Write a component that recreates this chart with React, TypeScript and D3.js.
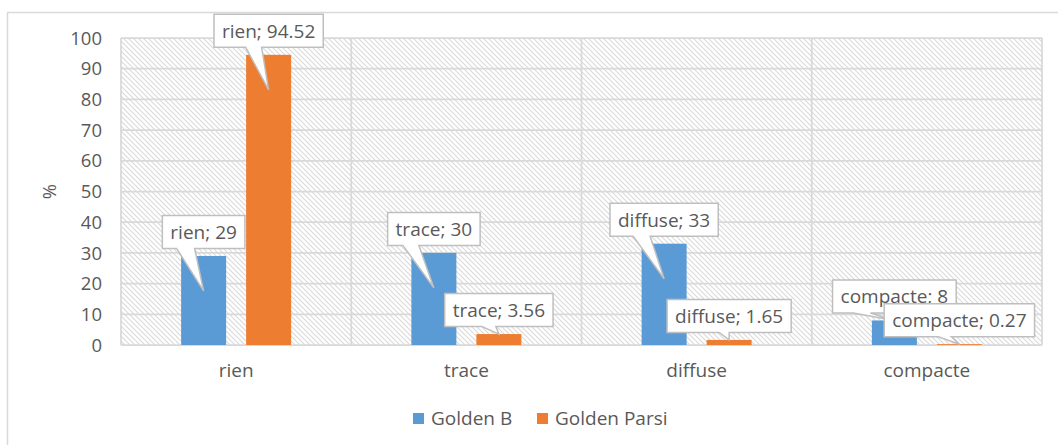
import React, { useEffect, useRef } from "react";
import * as d3 from "d3";

const categories = ["rien", "trace", "diffuse", "compacte"];
const seriesNames = ["Golden B", "Golden Parsi"];
const goldenB = [29, 30, 33, 8];
const goldenParsi = [94.52, 3.56, 1.65, 0.27];
const yTicks = [0, 10, 20, 30, 40, 50, 60, 70, 80, 90, 100];
const seriesColors = ["#5B9BD5", "#ED7D31"];

// Callout pointer geometry: how far below the bar top the tip sits,
// and the wedge base span on the box edge relative to the tip x.
const tipDepthB = [35, 35, 35, 0];
const tipDepthP = [35, 0, 0, 0];
const wedgeBaseB = [[-27, -9], [-31, -15], [-31, -14], [-41, -24]];
const wedgeBaseP = [[-23, -7], [-17, -3], [-10, 0], [-21, -8]];

const W = 1058;
const H = 445;
const plot = { left: 121, right: 1042, top: 38, bottom: 345 };
const textColor = "#595959";
const gridColor = "#d9d9d9";
const font = "'Open Sans', sans-serif";

export default function App() {
  const ref = useRef<SVGSVGElement | null>(null);

  useEffect(() => {
    const svg = d3.select(ref.current);
    svg.selectAll("*").remove();

    const x0 = d3.scaleBand<string>().domain(categories).range([plot.left, plot.right]).paddingInner(0).paddingOuter(0);
    const x1 = d3.scaleBand<string>().domain(seriesNames).range([0, x0.bandwidth()]).paddingInner(0.3077).paddingOuter(0.925);
    const y = d3.scaleLinear().domain([0, 100]).range([plot.bottom, plot.top]);

    const defs = svg.append("defs");
    const pat = defs.append("pattern")
      .attr("id", "hatch")
      .attr("patternUnits", "userSpaceOnUse")
      .attr("width", 5)
      .attr("height", 5);
    pat.append("rect").attr("width", 5).attr("height", 5).attr("fill", "#ffffff");
    pat.append("path")
      .attr("d", "M-1,-1 L6,6 M-1,4 L1,6 M4,-1 L6,1")
      .attr("stroke", "#dadada")
      .attr("stroke-width", 1.1);

    svg.append("rect").attr("x", 0).attr("y", 0).attr("width", W).attr("height", H).attr("fill", "#ffffff");
    svg.append("rect")
      .attr("x", 7.5).attr("y", 12.5).attr("width", W + 20).attr("height", H + 20)
      .attr("fill", "#ffffff").attr("stroke", gridColor).attr("stroke-width", 1.5);

    // plot area with hatched fill
    svg.append("rect")
      .attr("x", plot.left).attr("y", plot.top)
      .attr("width", plot.right - plot.left).attr("height", plot.bottom - plot.top)
      .attr("fill", "url(#hatch)");

    // horizontal gridlines
    svg.append("g").selectAll("line").data(yTicks).join("line")
      .attr("x1", plot.left).attr("x2", plot.right)
      .attr("y1", (d) => y(d)).attr("y2", (d) => y(d))
      .attr("stroke", gridColor).attr("stroke-width", 1.75);

    // vertical gridlines at category boundaries
    const bounds = categories.map((c) => x0(c) as number).concat([plot.right]);
    svg.append("g").selectAll("line").data(bounds).join("line")
      .attr("x1", (d) => d).attr("x2", (d) => d)
      .attr("y1", plot.top).attr("y2", plot.bottom)
      .attr("stroke", gridColor).attr("stroke-width", 1.75);

    const seriesData = [goldenB, goldenParsi];

    // bars
    seriesData.forEach((vals, si) => {
      svg.append("g").selectAll("rect").data(vals).join("rect")
        .attr("x", (_d, i) => (x0(categories[i]) as number) + (x1(seriesNames[si]) as number))
        .attr("y", (d) => y(d))
        .attr("width", x1.bandwidth())
        .attr("height", (d) => y(0) - y(d))
        .attr("fill", seriesColors[si]);
    });

    // y tick labels
    svg.append("g").selectAll("text").data(yTicks).join("text")
      .attr("x", 102).attr("y", (d) => y(d)).attr("dy", "0.36em")
      .attr("text-anchor", "end")
      .attr("font-family", font).attr("font-size", 18.5).attr("fill", textColor)
      .text((d) => String(d));

    // y axis title
    svg.append("text")
      .attr("transform", `translate(56, ${(plot.top + plot.bottom) / 2}) rotate(-90)`)
      .attr("text-anchor", "middle")
      .attr("font-family", font).attr("font-size", 18.5).attr("fill", textColor)
      .text("%");

    // category labels
    svg.append("g").selectAll("text").data(categories).join("text")
      .attr("x", (d) => (x0(d) as number) + x0.bandwidth() / 2)
      .attr("y", 377)
      .attr("text-anchor", "middle")
      .attr("font-family", font).attr("font-size", 19).attr("fill", textColor)
      .text((d) => d);

    // data callouts
    const tipDepths = [tipDepthB, tipDepthP];
    const wedgeBases = [wedgeBaseB, wedgeBaseP];
    const pad = 8;
    const boxH = 33;
    seriesData.forEach((vals, si) => {
      vals.forEach((v, i) => {
        const cx = (x0(categories[i]) as number) + (x1(seriesNames[si]) as number) + x1.bandwidth() / 2;
        const top = y(v);
        const cy = top - 24;
        const g = svg.append("g");
        const path = g.append("path");
        const txt = g.append("text")
          .attr("x", cx).attr("y", cy).attr("dy", "0.36em")
          .attr("text-anchor", "middle")
          .attr("font-family", font).attr("font-size", 19).attr("fill", textColor)
          .text(`${categories[i]}; ${v}`);
        const tw = (txt.node() as SVGTextElement).getComputedTextLength();
        const bx0 = cx - tw / 2 - pad;
        const bx1 = cx + tw / 2 + pad;
        const by0 = cy - boxH / 2;
        const by1 = cy + boxH / 2;
        const tx = cx;
        const ty = top + tipDepths[si][i];
        const [w0, w1] = wedgeBases[si][i];
        const d = `M${bx0},${by0} H${bx1} V${by1} H${tx + w1} L${tx},${ty} L${tx + w0},${by1} H${bx0} Z`;
        path.attr("d", d)
          .attr("fill", "#ffffff")
          .attr("stroke", "#bfbfbf")
          .attr("stroke-width", 1.5)
          .attr("stroke-linejoin", "miter");
      });
    });

    // legend
    const legendItems = [
      { name: seriesNames[0], color: seriesColors[0], x: 413 },
      { name: seriesNames[1], color: seriesColors[1], x: 537 },
    ];
    const lg = svg.append("g");
    legendItems.forEach((it) => {
      lg.append("rect").attr("x", it.x).attr("y", 413).attr("width", 11).attr("height", 11).attr("fill", it.color);
      lg.append("text")
        .attr("x", it.x + 18).attr("y", 424.5)
        .attr("font-family", font).attr("font-size", 19).attr("fill", textColor)
        .text(it.name);
    });
  }, []);

  return (
    <svg
      ref={ref}
      width={W}
      height={H}
      style={{ position: "absolute", left: 0, top: 0, display: "block" }}
    />
  );
}
